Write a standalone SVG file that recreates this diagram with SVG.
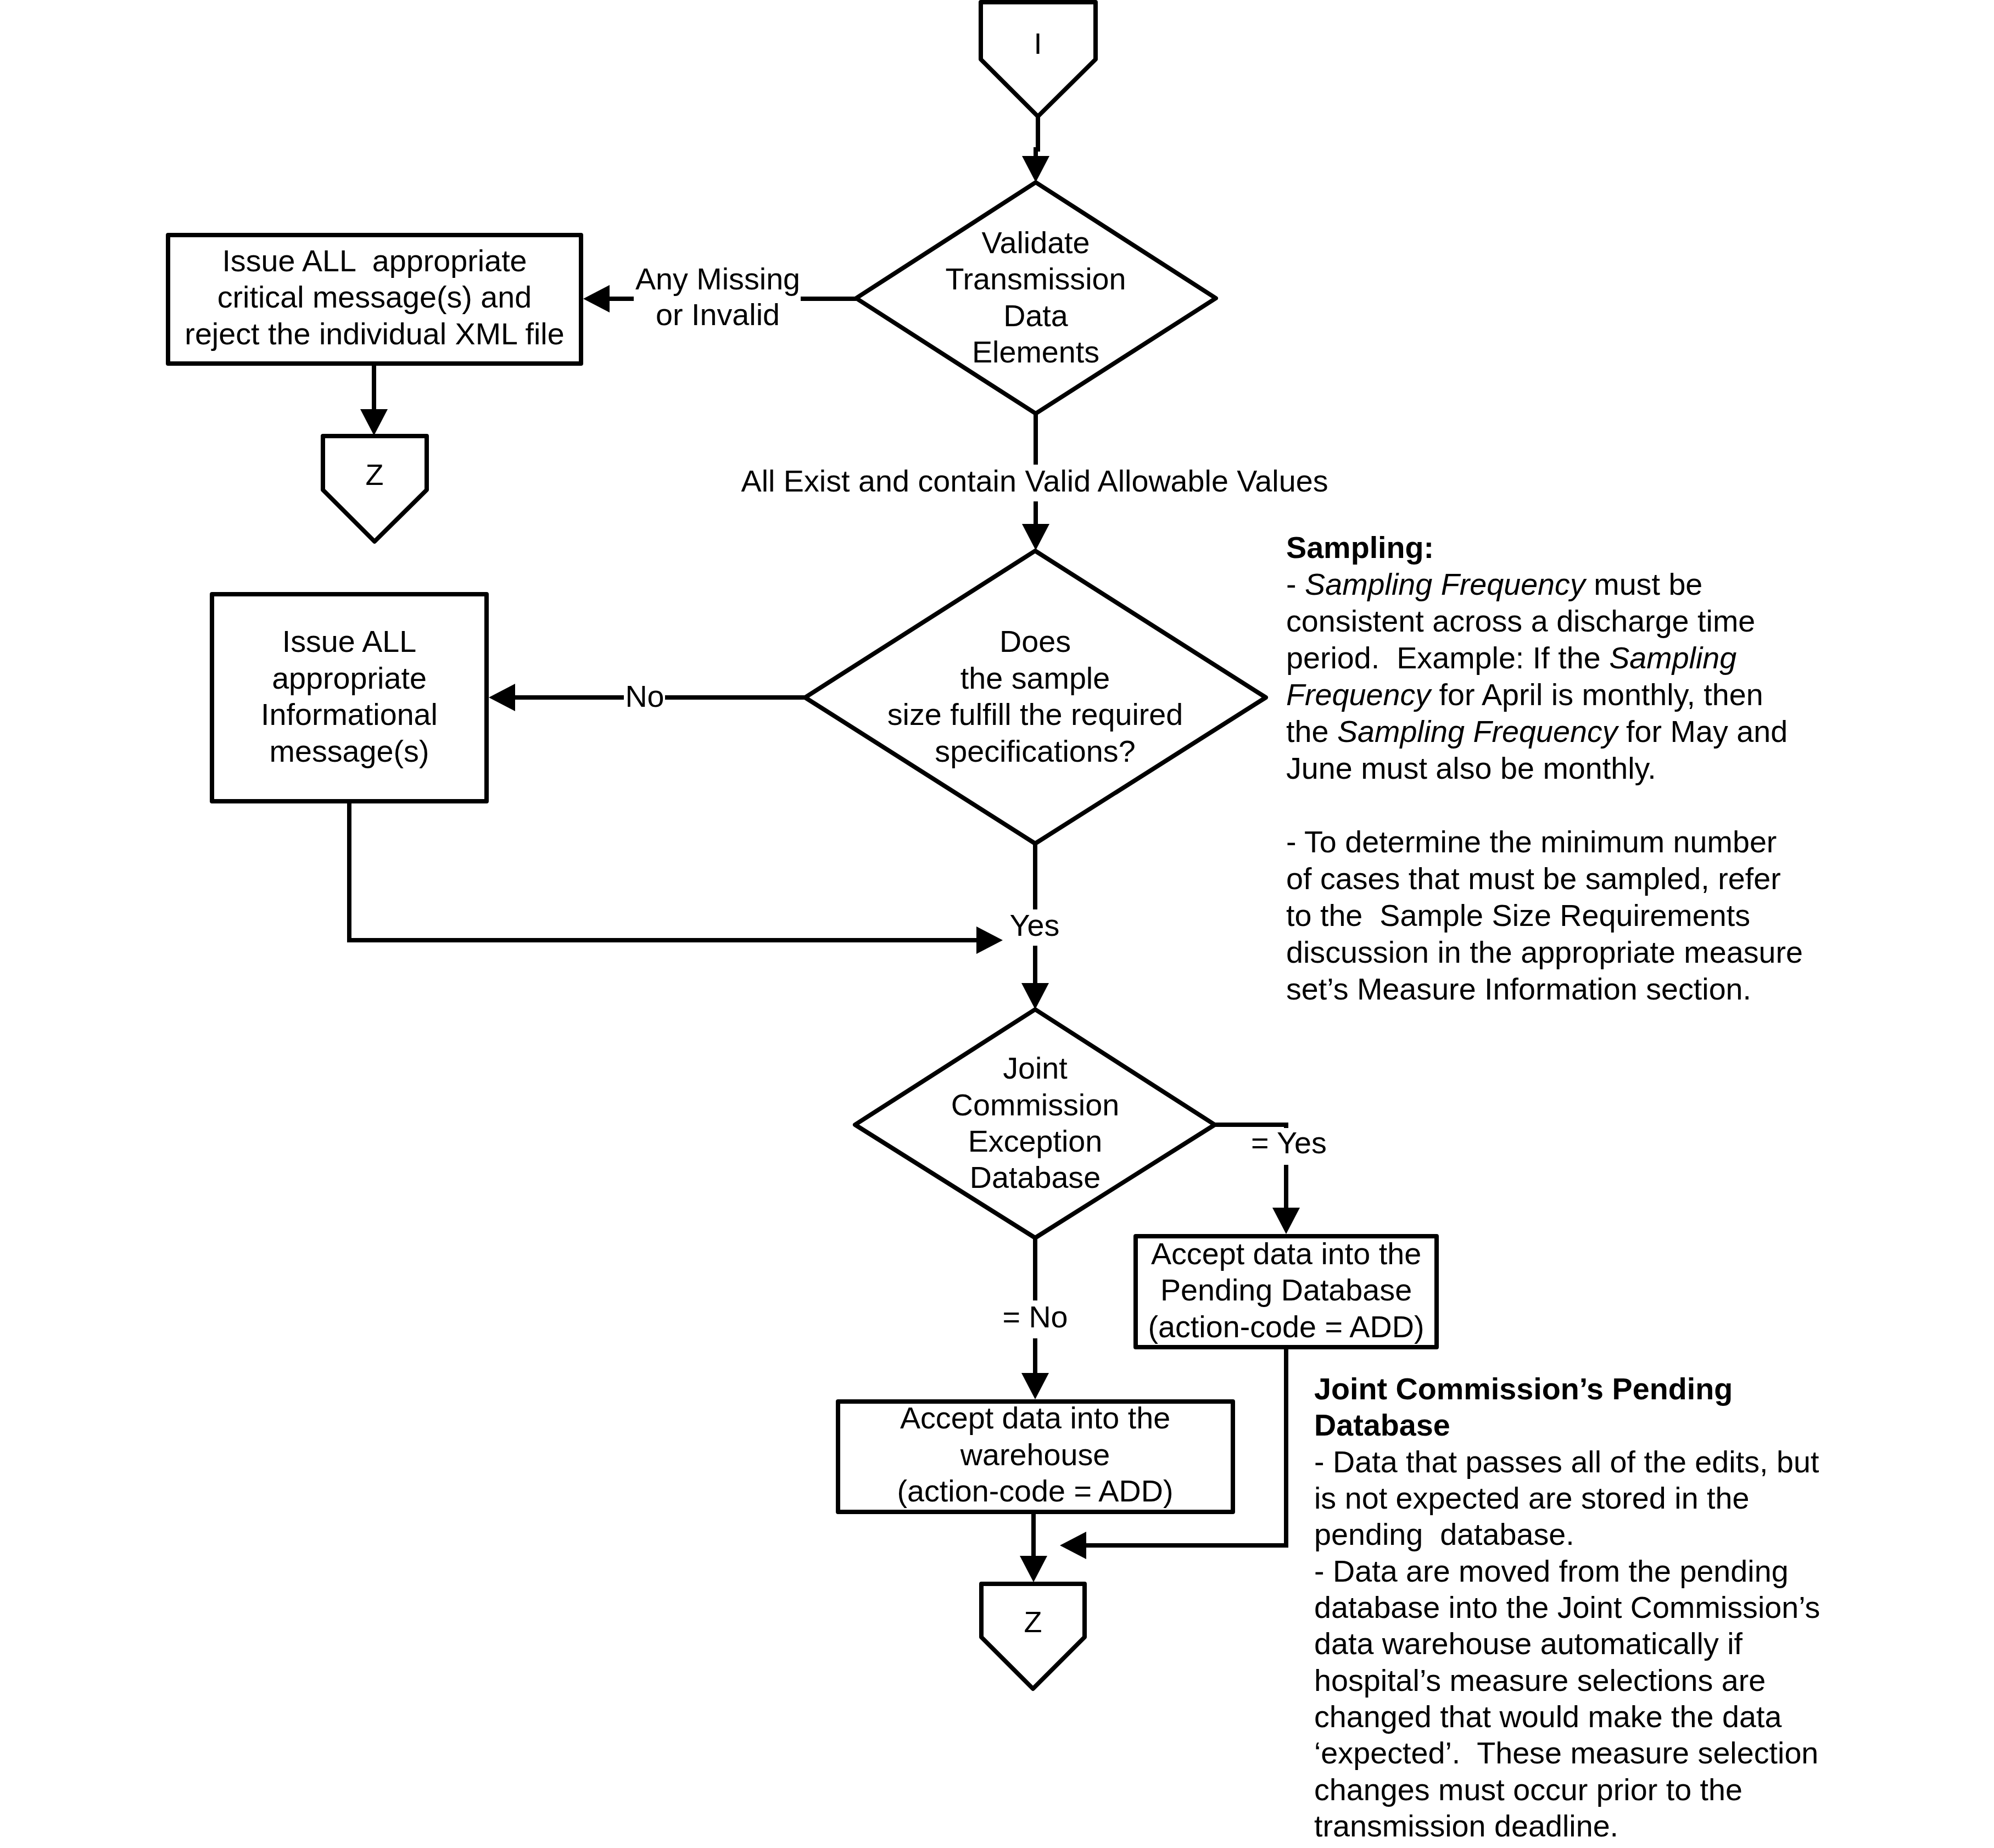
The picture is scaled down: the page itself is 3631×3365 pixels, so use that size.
<svg xmlns="http://www.w3.org/2000/svg" width="3631" height="3365" viewBox="0 0 3631 3365">
<style>
text{font-family:"Liberation Sans",Arial,sans-serif;font-size:55.7px;fill:#000}
.c{text-anchor:middle}
.b{font-weight:bold}
.i{font-style:italic}
.shape{fill:#fff;stroke:#000;stroke-width:8;stroke-linejoin:round}
.conn path{fill:none;stroke:#000;stroke-width:8;stroke-linejoin:miter}
.lt{font-size:54px}
</style>
<defs>
<marker id="ah" markerUnits="userSpaceOnUse" markerWidth="50" markerHeight="52" refX="0" refY="25" orient="auto" overflow="visible">
<path d="M0,0 L48,25 L0,50 Z" fill="#000"/>
</marker>
</defs>
<rect width="3631" height="3365" fill="#fff"/>

<g class="conn" id="connectors">
<path d="M1890,212 V272 H1886 V284" marker-end="url(#ah)"/>
<path d="M1559,544 H1458"/>
<path d="M1154,544 H1110" marker-end="url(#ah)"/>
<path d="M681,662 V745" marker-end="url(#ah)"/>
<path d="M1886,753 V846"/>
<path d="M1886,913 V954" marker-end="url(#ah)"/>
<path d="M1466,1270 H1211"/>
<path d="M1136,1270 H938" marker-end="url(#ah)"/>
<path d="M636,1459 V1712 H1778" marker-end="url(#ah)"/>
<path d="M1885,1536 V1656"/>
<path d="M1885,1722 V1790" marker-end="url(#ah)"/>
<path d="M2212,2048 H2342 V2054"/>
<path d="M2342,2121 V2199" marker-end="url(#ah)"/>
<path d="M1885,2254 V2368"/>
<path d="M1885,2437 V2500" marker-end="url(#ah)"/>
<path d="M1882,2753 V2833" marker-end="url(#ah)"/>
<path d="M2342,2453 V2814 H1978" marker-end="url(#ah)"/>
</g>

<g id="labels">
<text class="c" x="1307" y="527">Any Missing</text>
<text class="c" x="1307" y="592">or Invalid</text>
<text class="c" x="1884" y="895">All Exist and contain Valid Allowable Values</text>
<text class="c" x="1174" y="1287">No</text>
<text class="c" x="1884" y="1704">Yes</text>
<text class="c" x="2347" y="2100">= Yes</text>
<text class="c" x="1885" y="2417">= No</text>
</g>

<g id="node-I">
<path class="shape" d="M1786,4 H1995 V108 L1890,212 L1786,108 Z"/>
<text class="c lt" x="1890" y="98">I</text>
</g>

<g id="node-validate">
<path class="shape" d="M1886,332 L2214,543 L1886,753 L1559,543 Z"/>
<text class="c" x="1886" y="461">Validate</text>
<text class="c" x="1886" y="527">Transmission</text>
<text class="c" x="1886" y="594">Data</text>
<text class="c" x="1886" y="660">Elements</text>
</g>

<g id="node-critical">
<rect class="shape" x="306" y="428" width="752" height="234"/>
<text class="c" x="682" y="494" xml:space="preserve">Issue ALL  appropriate</text>
<text class="c" x="682" y="560">critical message(s) and</text>
<text class="c" x="682" y="627">reject the individual XML file</text>
</g>

<g id="node-Z1">
<path class="shape" d="M588,794 H777 V892 L682,986 L588,892 Z"/>
<text class="c lt" x="682" y="883">Z</text>
</g>

<g id="node-sample">
<path class="shape" d="M1885,1003 L2305,1270 L1885,1536 L1466,1270 Z"/>
<text class="c" x="1885" y="1187">Does</text>
<text class="c" x="1885" y="1254">the sample</text>
<text class="c" x="1885" y="1320">size fulfill the required</text>
<text class="c" x="1885" y="1387">specifications?</text>
</g>

<g id="node-informational">
<rect class="shape" x="386" y="1082" width="500" height="377"/>
<text class="c" x="636" y="1187">Issue ALL</text>
<text class="c" x="636" y="1254">appropriate</text>
<text class="c" x="636" y="1320">Informational</text>
<text class="c" x="636" y="1387">message(s)</text>
</g>

<g id="node-exception">
<path class="shape" d="M1885,1838 L2212,2048 L1885,2254 L1557,2048 Z"/>
<text class="c" x="1885" y="1964">Joint</text>
<text class="c" x="1885" y="2031">Commission</text>
<text class="c" x="1885" y="2097">Exception</text>
<text class="c" x="1885" y="2163">Database</text>
</g>

<g id="node-pending">
<rect class="shape" x="2068" y="2251" width="548" height="202"/>
<text class="c" x="2342" y="2302">Accept data into the</text>
<text class="c" x="2342" y="2368">Pending Database</text>
<text class="c" x="2342" y="2435">(action-code = ADD)</text>
</g>

<g id="node-warehouse">
<rect class="shape" x="1526" y="2552" width="719" height="201"/>
<text class="c" x="1885" y="2601">Accept data into the</text>
<text class="c" x="1885" y="2668">warehouse</text>
<text class="c" x="1885" y="2734">(action-code = ADD)</text>
</g>

<g id="node-Z2">
<path class="shape" d="M1787,2884 H1975 V2981 L1881,3075 L1787,2981 Z"/>
<text class="c lt" x="1881" y="2972">Z</text>
</g>

<g id="note-sampling">
<text x="2342" y="1016" class="b">Sampling:</text>
<text x="2342" y="1083" xml:space="preserve">- <tspan class="i">Sampling Frequency</tspan> must be</text>
<text x="2342" y="1150">consistent across a discharge time</text>
<text x="2342" y="1217" xml:space="preserve">period.  Example: If the <tspan class="i">Sampling</tspan></text>
<text x="2342" y="1284" xml:space="preserve"><tspan class="i">Frequency</tspan> for April is monthly, then</text>
<text x="2342" y="1351" xml:space="preserve">the <tspan class="i">Sampling Frequency</tspan> for May and</text>
<text x="2342" y="1418">June must also be monthly.</text>
<text x="2342" y="1552">- To determine the minimum number</text>
<text x="2342" y="1619">of cases that must be sampled, refer</text>
<text x="2342" y="1686" xml:space="preserve">to the  Sample Size Requirements</text>
<text x="2342" y="1753">discussion in the appropriate measure</text>
<text x="2342" y="1820">set’s Measure Information section.</text>
</g>

<g id="note-pending">
<text x="2393" y="2548" class="b">Joint Commission’s Pending</text>
<text x="2393" y="2614" class="b">Database</text>
<text x="2393" y="2681">- Data that passes all of the edits, but</text>
<text x="2393" y="2747">is not expected are stored in the</text>
<text x="2393" y="2813" xml:space="preserve">pending  database.</text>
<text x="2393" y="2880">- Data are moved from the pending</text>
<text x="2393" y="2946">database into the Joint Commission’s</text>
<text x="2393" y="3012">data warehouse automatically if</text>
<text x="2393" y="3079">hospital’s measure selections are</text>
<text x="2393" y="3145">changed that would make the data</text>
<text x="2393" y="3211" xml:space="preserve">‘expected’.  These measure selection</text>
<text x="2393" y="3278">changes must occur prior to the</text>
<text x="2393" y="3344">transmission deadline.</text>
</g>
</svg>
